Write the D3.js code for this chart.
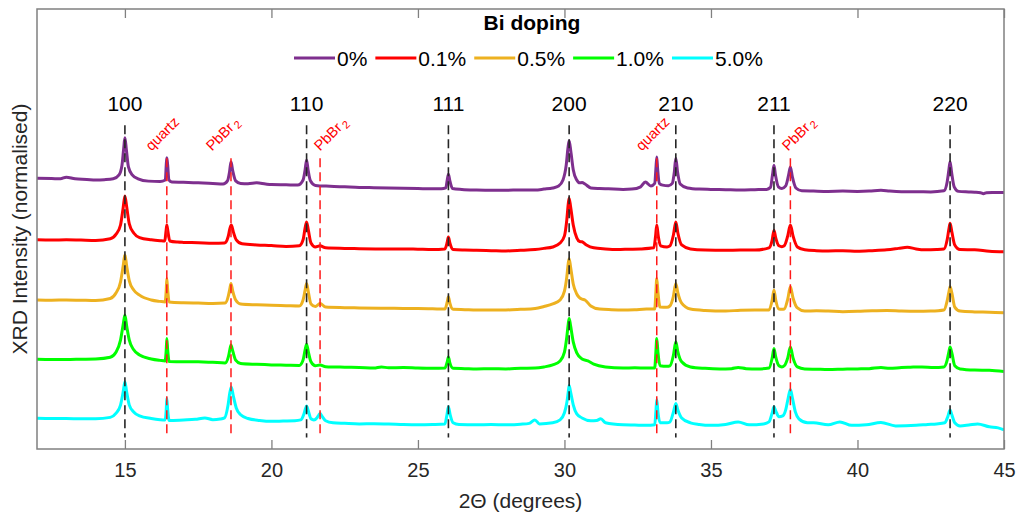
<!DOCTYPE html>
<html>
<head>
<meta charset="utf-8">
<script src="https://cdn.jsdelivr.net/npm/d3@7"></script>
<style>
  body { margin: 0; background: #fff; }
  svg text { font-family: "Liberation Sans", Arial, Helvetica, sans-serif; }
</style>
</head>
<body>
<div id="chart1"></div>
<script>
// normalised XRD intensity, [2theta, I]
var trace0 = [[12,0.29],[12.5,0.285],[12.8,0.28],[13.0,0.31],[13.3,0.28],[13.7,0.27],[14.0,0.26],[14.3,0.265],[14.6,0.28],[14.8,0.35],[14.9,0.52],[14.96,0.82],[15.0,1.0],[15.05,0.79],[15.12,0.49],[15.25,0.35],[15.45,0.28],[15.8,0.24],[16.2,0.235],[16.38,0.26],[16.41,0.52],[16.43,0.65],[16.46,0.52],[16.5,0.26],[16.6,0.225],[17.0,0.22],[17.5,0.21],[18.0,0.2],[18.35,0.19],[18.5,0.245],[18.57,0.40],[18.62,0.58],[18.68,0.42],[18.78,0.245],[18.95,0.2],[19.2,0.195],[19.5,0.21],[19.8,0.19],[20.0,0.18],[20.5,0.175],[20.9,0.17],[21.08,0.26],[21.15,0.44],[21.2,0.61],[21.25,0.44],[21.33,0.245],[21.5,0.165],[22.0,0.15],[22.5,0.14],[23,0.13],[23.5,0.125],[24,0.12],[24.5,0.115],[25,0.11],[25.5,0.105],[25.8,0.105],[25.95,0.12],[26.0,0.26],[26.04,0.36],[26.09,0.245],[26.18,0.11],[26.5,0.095],[27,0.085],[27.5,0.08],[28,0.08],[28.5,0.085],[29,0.085],[29.3,0.1],[29.6,0.12],[29.8,0.155],[29.95,0.26],[30.06,0.52],[30.12,0.82],[30.16,0.95],[30.22,0.75],[30.3,0.44],[30.42,0.26],[30.52,0.21],[30.6,0.215],[30.7,0.19],[30.9,0.12],[31.2,0.11],[31.5,0.105],[32.0,0.095],[32.3,0.1],[32.6,0.14],[32.76,0.225],[32.95,0.155],[33.08,0.2],[33.12,0.45],[33.15,0.665],[33.18,0.45],[33.24,0.2],[33.35,0.17],[33.55,0.16],[33.68,0.2],[33.75,0.40],[33.8,0.64],[33.86,0.40],[33.95,0.19],[34.2,0.12],[34.6,0.1],[35,0.095],[35.5,0.09],[36,0.085],[36.5,0.09],[36.9,0.095],[37.03,0.13],[37.1,0.35],[37.15,0.52],[37.2,0.35],[37.3,0.14],[37.42,0.11],[37.55,0.155],[37.65,0.35],[37.71,0.49],[37.78,0.31],[37.9,0.12],[38.1,0.07],[38.5,0.065],[39,0.06],[39.5,0.065],[40,0.06],[40.4,0.065],[40.8,0.08],[41.1,0.065],[41.5,0.055],[42,0.055],[42.5,0.05],[42.95,0.07],[43.06,0.225],[43.12,0.44],[43.16,0.58],[43.21,0.40],[43.3,0.14],[43.45,0.06],[43.8,0.05],[44,0.045],[44.2,0.035],[44.3,0.02],[44.4,0.035],[44.6,0.04],[45,0.04]];

var trace01 = [[12,0.25],[12.5,0.245],[13,0.25],[13.5,0.245],[14,0.24],[14.5,0.27],[14.7,0.35],[14.85,0.51],[14.94,0.81],[15.0,1.02],[15.06,0.83],[15.15,0.53],[15.3,0.37],[15.5,0.29],[15.9,0.25],[16.2,0.235],[16.36,0.23],[16.4,0.39],[16.43,0.51],[16.47,0.39],[16.53,0.23],[16.8,0.21],[17,0.205],[17.5,0.2],[18,0.19],[18.4,0.195],[18.52,0.30],[18.58,0.44],[18.63,0.51],[18.7,0.39],[18.8,0.25],[19.0,0.18],[19.5,0.16],[20,0.15],[20.5,0.135],[20.95,0.145],[21.08,0.25],[21.15,0.46],[21.2,0.565],[21.26,0.42],[21.35,0.195],[21.5,0.125],[21.66,0.145],[21.85,0.11],[22.5,0.1],[23,0.095],[24,0.09],[24.5,0.09],[25,0.085],[25.5,0.08],[25.92,0.09],[26.0,0.21],[26.04,0.30],[26.09,0.195],[26.2,0.08],[26.6,0.07],[27,0.065],[27.5,0.06],[28,0.055],[28.5,0.065],[29,0.08],[29.3,0.1],[29.6,0.125],[29.85,0.195],[30.0,0.32],[30.08,0.60],[30.13,0.88],[30.16,0.98],[30.21,0.83],[30.3,0.51],[30.42,0.285],[30.52,0.22],[30.6,0.215],[30.75,0.16],[31.0,0.11],[31.4,0.09],[31.8,0.08],[32.2,0.085],[32.6,0.09],[33.05,0.11],[33.11,0.32],[33.15,0.51],[33.2,0.32],[33.28,0.145],[33.5,0.125],[33.6,0.145],[33.72,0.34],[33.8,0.565],[33.87,0.37],[34.0,0.16],[34.3,0.09],[34.8,0.07],[35.5,0.065],[36,0.07],[36.5,0.07],[36.98,0.11],[37.09,0.25],[37.15,0.42],[37.21,0.285],[37.32,0.145],[37.42,0.13],[37.5,0.145],[37.62,0.32],[37.71,0.51],[37.8,0.32],[37.95,0.125],[38.2,0.075],[38.6,0.06],[39,0.055],[39.5,0.06],[40,0.05],[40.5,0.06],[41,0.075],[41.4,0.1],[41.7,0.12],[42,0.09],[42.3,0.075],[42.7,0.08],[42.95,0.09],[43.06,0.25],[43.12,0.44],[43.16,0.54],[43.22,0.39],[43.32,0.16],[43.5,0.08],[44,0.075],[44.5,0.05],[45,0.04]];

var trace05 = [[12,0.235],[12.5,0.23],[13,0.235],[13.5,0.23],[14,0.225],[14.5,0.26],[14.7,0.36],[14.85,0.55],[14.94,0.83],[15.0,1.03],[15.06,0.83],[15.15,0.57],[15.3,0.41],[15.5,0.32],[15.9,0.235],[16.2,0.21],[16.37,0.2],[16.41,0.41],[16.43,0.61],[16.46,0.41],[16.51,0.2],[17,0.185],[17.5,0.18],[18,0.175],[18.42,0.18],[18.53,0.305],[18.58,0.43],[18.62,0.525],[18.68,0.39],[18.78,0.235],[18.95,0.165],[19.5,0.15],[20,0.14],[20.5,0.135],[20.95,0.13],[21.08,0.235],[21.15,0.41],[21.2,0.525],[21.26,0.375],[21.35,0.165],[21.5,0.12],[21.66,0.175],[21.85,0.11],[22.5,0.1],[23,0.095],[24,0.09],[24.5,0.085],[25,0.085],[25.5,0.08],[25.92,0.075],[26.0,0.2],[26.04,0.29],[26.09,0.18],[26.2,0.07],[26.6,0.065],[27,0.06],[27.5,0.06],[28,0.06],[28.5,0.07],[29,0.085],[29.3,0.12],[29.6,0.165],[29.85,0.235],[30.0,0.39],[30.08,0.64],[30.13,0.88],[30.16,0.96],[30.21,0.81],[30.3,0.515],[30.42,0.34],[30.52,0.27],[30.6,0.25],[30.7,0.235],[30.9,0.13],[31.2,0.075],[31.6,0.065],[32,0.06],[32.4,0.065],[32.8,0.075],[33.08,0.075],[33.12,0.375],[33.15,0.61],[33.19,0.375],[33.26,0.11],[33.5,0.105],[33.6,0.13],[33.72,0.305],[33.8,0.525],[33.87,0.36],[34.0,0.18],[34.3,0.075],[34.8,0.05],[35.5,0.04],[36,0.055],[36.5,0.06],[36.98,0.06],[37.09,0.235],[37.15,0.41],[37.21,0.235],[37.32,0.075],[37.42,0.07],[37.5,0.075],[37.62,0.25],[37.71,0.465],[37.8,0.27],[37.95,0.095],[38.2,0.04],[38.6,0.045],[39,0.04],[39.5,0.03],[40,0.035],[40.5,0.045],[41,0.05],[41.5,0.04],[42,0.035],[42.5,0.04],[42.95,0.06],[43.06,0.22],[43.12,0.375],[43.16,0.465],[43.22,0.36],[43.32,0.11],[43.5,0.04],[44,0.025],[44.5,0.02],[45,0.01]];

var trace10 = [[12,0.235],[12.5,0.23],[13,0.23],[13.5,0.235],[14,0.24],[14.5,0.27],[14.7,0.36],[14.85,0.57],[14.94,0.84],[15.0,1.01],[15.06,0.82],[15.15,0.57],[15.3,0.40],[15.5,0.31],[15.9,0.24],[16.2,0.215],[16.37,0.205],[16.41,0.40],[16.43,0.6],[16.46,0.4],[16.51,0.195],[17,0.19],[17.5,0.19],[18,0.18],[18.42,0.17],[18.53,0.275],[18.58,0.40],[18.62,0.485],[18.68,0.38],[18.78,0.22],[18.95,0.16],[19.5,0.145],[20,0.135],[20.5,0.13],[20.95,0.125],[21.08,0.22],[21.15,0.40],[21.2,0.5],[21.26,0.365],[21.35,0.19],[21.5,0.12],[21.66,0.135],[21.85,0.105],[22.5,0.095],[23,0.09],[23.5,0.08],[23.75,0.1],[24,0.085],[24.5,0.09],[25,0.08],[25.5,0.075],[25.92,0.08],[26.0,0.19],[26.04,0.275],[26.09,0.17],[26.2,0.075],[26.6,0.07],[27,0.065],[27.5,0.07],[28,0.065],[28.5,0.075],[29,0.08],[29.3,0.1],[29.6,0.135],[29.85,0.205],[30.0,0.36],[30.08,0.625],[30.13,0.855],[30.16,0.95],[30.21,0.82],[30.3,0.54],[30.42,0.345],[30.6,0.24],[30.8,0.205],[31.0,0.15],[31.4,0.1],[32,0.08],[32.4,0.085],[32.8,0.08],[33.08,0.08],[33.12,0.365],[33.15,0.6],[33.19,0.365],[33.26,0.12],[33.5,0.11],[33.6,0.12],[33.72,0.31],[33.8,0.54],[33.87,0.365],[34.0,0.19],[34.3,0.1],[34.8,0.075],[35.3,0.065],[35.7,0.07],[35.93,0.09],[36.2,0.07],[36.6,0.065],[36.98,0.08],[37.09,0.26],[37.15,0.425],[37.21,0.275],[37.32,0.12],[37.42,0.1],[37.5,0.12],[37.62,0.26],[37.71,0.45],[37.8,0.26],[37.95,0.1],[38.2,0.065],[38.6,0.06],[39,0.055],[39.5,0.06],[40,0.065],[40.4,0.07],[40.8,0.09],[41.1,0.075],[41.5,0.09],[41.8,0.095],[42.2,0.1],[42.6,0.09],[42.95,0.1],[43.06,0.22],[43.12,0.365],[43.16,0.45],[43.22,0.345],[43.32,0.12],[43.5,0.065],[44,0.045],[44.5,0.04],[45,0.02]];

var trace50 = [[12,0.24],[12.5,0.235],[13,0.235],[13.5,0.23],[14,0.23],[14.5,0.255],[14.7,0.33],[14.85,0.47],[14.94,0.70],[15.0,0.88],[15.06,0.70],[15.15,0.47],[15.3,0.35],[15.5,0.28],[15.9,0.235],[16.2,0.215],[16.37,0.21],[16.41,0.385],[16.43,0.59],[16.46,0.385],[16.51,0.2],[17,0.21],[17.4,0.22],[17.73,0.245],[18.0,0.215],[18.25,0.225],[18.4,0.245],[18.52,0.47],[18.58,0.685],[18.63,0.79],[18.7,0.63],[18.8,0.42],[18.95,0.3],[19.2,0.235],[19.6,0.2],[20,0.185],[20.4,0.19],[20.8,0.195],[21.0,0.21],[21.1,0.3],[21.16,0.405],[21.2,0.455],[21.25,0.385],[21.35,0.23],[21.45,0.21],[21.55,0.245],[21.62,0.3],[21.66,0.325],[21.72,0.28],[21.85,0.195],[22.1,0.16],[22.5,0.15],[23,0.14],[23.5,0.145],[24,0.14],[24.5,0.13],[25,0.125],[25.5,0.13],[25.92,0.14],[25.99,0.3],[26.04,0.44],[26.1,0.3],[26.2,0.16],[26.4,0.13],[27,0.125],[27.5,0.13],[28,0.125],[28.5,0.135],[28.8,0.15],[28.99,0.21],[29.15,0.14],[29.6,0.16],[29.85,0.21],[30.0,0.335],[30.08,0.51],[30.13,0.70],[30.16,0.815],[30.21,0.70],[30.3,0.475],[30.42,0.315],[30.6,0.245],[30.9,0.195],[31.1,0.2],[31.24,0.23],[31.4,0.16],[32,0.125],[32.4,0.12],[32.8,0.115],[33.08,0.125],[33.12,0.35],[33.15,0.57],[33.19,0.35],[33.26,0.16],[33.5,0.16],[33.6,0.175],[33.72,0.35],[33.8,0.5],[33.87,0.385],[34.0,0.245],[34.3,0.16],[34.6,0.13],[35,0.115],[35.5,0.13],[35.93,0.175],[36.3,0.125],[36.8,0.14],[36.98,0.175],[37.09,0.335],[37.15,0.44],[37.21,0.37],[37.32,0.265],[37.45,0.28],[37.55,0.385],[37.63,0.58],[37.71,0.745],[37.78,0.595],[37.88,0.35],[38.0,0.23],[38.3,0.16],[38.5,0.16],[39,0.125],[39.4,0.175],[39.8,0.115],[40.3,0.125],[40.8,0.165],[41.3,0.105],[42,0.115],[42.4,0.13],[42.7,0.14],[42.98,0.16],[43.08,0.265],[43.16,0.385],[43.22,0.3],[43.32,0.16],[43.5,0.105],[43.8,0.12],[44.1,0.14],[44.5,0.09],[44.8,0.07],[45,0.035]];

var dopingLabels = ["0%", "0.1%", "0.5%", "1.0%", "5.0%"];
var traceOffsets = [4.16, 3.12, 2.08, 1.04, 0];
var traceColors = ["#7E2F8E", "#FF0000", "#EDB120", "#00FF00", "#00FFFF"];

// perovskite reflections
var hklPos = [15.0, 21.2, 26.04, 30.16, 33.8, 37.15, 43.16];
var hklLabels = ["100", "110", "111", "200", "210", "211", "220"];

// impurity reflections
var impPos = [16.43, 18.62, 21.66, 33.15, 37.71];
var impNames = ["quartz", "PbBr", "PbBr", "quartz", "PbBr"];
var impSub = ["", "2", "2", "", "2"];
var impLabelX = [15.91, 17.97, 21.66, 32.64, 37.63];

var xTicks = [15, 20, 25, 30, 35, 40, 45];

var traces = [trace0, trace01, trace05, trace10, trace50];

function drawChart() {
  var w = 1018, h = 512;
  var mLeft = 37, mRight = 1004, mTop = 9, mBottom = 449;

  var xScale = d3.scaleLinear().domain([12, 45]).range([mLeft, mRight]);
  var yScale = d3.scaleLinear().domain([-0.3, 7.42]).range([mBottom, mTop]);

  var svg = d3.select("#chart1").append("svg")
      .attr("width", w)
      .attr("height", h);

  svg.append("defs").append("clipPath").attr("id", "clip")
    .append("rect")
      .attr("x", mLeft).attr("y", mTop)
      .attr("width", mRight - mLeft).attr("height", mBottom - mTop);

  var line = d3.line()
      .x(function(d) { return xScale(d[0]); })
      .y(function(d) { return yScale(d[1]); })
      .curve(d3.curveMonotoneX);

  var plot = svg.append("g").attr("clip-path", "url(#clip)");

  traces.forEach(function(tr, i) {
    plot.append("path")
      .datum(tr.map(function(p) { return [p[0], p[1] + traceOffsets[i]]; }))
      .attr("fill", "none")
      .attr("stroke", traceColors[i])
      .attr("stroke-width", 3)
      .attr("stroke-linejoin", "round")
      .attr("d", line);
  });

  // dashed reference lines
  plot.selectAll(".hkl")
    .data(hklPos)
    .enter().append("line")
      .attr("x1", function(d) { return xScale(d); })
      .attr("x2", function(d) { return xScale(d); })
      .attr("y1", yScale(5.38))
      .attr("y2", yScale(-0.1))
      .attr("stroke", "#262626")
      .attr("stroke-width", 1.6)
      .attr("stroke-dasharray", "9,5");

  plot.selectAll(".imp")
    .data(impPos)
    .enter().append("line")
      .attr("x1", function(d) { return xScale(d); })
      .attr("x2", function(d) { return xScale(d); })
      .attr("y1", yScale(4.8))
      .attr("y2", yScale(-0.03))
      .attr("stroke", "#ff1a1a")
      .attr("stroke-width", 1.5)
      .attr("stroke-dasharray", "9,5");

  // axes box
  var xAxisB = d3.axisBottom(xScale).tickValues(xTicks).tickSizeInner(-9).tickSizeOuter(0).tickPadding(14);
  var xAxisT = d3.axisTop(xScale).tickValues(xTicks).tickSizeInner(-9).tickSizeOuter(0).tickFormat("");

  var gB = svg.append("g").attr("transform", "translate(0," + mBottom + ")").call(xAxisB);
  var gT = svg.append("g").attr("transform", "translate(0," + mTop + ")").call(xAxisT);
  [gB, gT].forEach(function(g) {
    g.select(".domain").remove();
    g.selectAll("line").attr("stroke", "#808080").attr("stroke-width", 1.3);
  });
  gB.selectAll("text")
      .attr("fill", "#262626")
      .style("font-size", "20px");

  svg.append("rect")
      .attr("x", mLeft).attr("y", mTop)
      .attr("width", mRight - mLeft).attr("height", mBottom - mTop)
      .attr("fill", "none")
      .attr("stroke", "#808080")
      .attr("stroke-width", 1.5);

  // hkl labels
  svg.selectAll(".hklLab")
    .data(hklLabels)
    .enter().append("text")
      .attr("x", function(d, i) { return xScale(hklPos[i]); })
      .attr("y", yScale(5.63))
      .attr("text-anchor", "middle")
      .attr("fill", "#000")
      .style("font-size", "21px")
      .text(function(d) { return d; });

  // impurity labels, rotated
  impNames.forEach(function(name, i) {
    var tx = xScale(impLabelX[i]), ty = yScale(4.92);
    var t = svg.append("text")
        .attr("x", tx).attr("y", ty)
        .attr("transform", "rotate(-45," + tx + "," + ty + ")")
        .attr("fill", "#ff0000")
        .style("font-size", "14.5px")
        .text(name);
    if (impSub[i]) {
      t.append("tspan")
        .attr("dx", 2).attr("dy", 3)
        .style("font-size", "11px")
        .text(impSub[i]);
    }
  });

  // axis labels
  svg.append("text")
      .attr("x", (mLeft + mRight) / 2)
      .attr("y", 508)
      .attr("text-anchor", "middle")
      .attr("fill", "#262626")
      .style("font-size", "21px")
      .text("2\u0398 (degrees)");

  svg.append("text")
      .attr("transform", "translate(27," + ((mTop + mBottom) / 2) + ") rotate(-90)")
      .attr("text-anchor", "middle")
      .attr("fill", "#262626")
      .style("font-size", "21px")
      .text("XRD Intensity (normalised)");

  // legend
  var legend = svg.append("g");
  legend.append("text")
      .attr("x", 532).attr("y", 30)
      .attr("text-anchor", "middle")
      .attr("fill", "#000")
      .style("font-size", "21px")
      .style("font-weight", "bold")
      .text("Bi doping");

  var lx = 294;
  dopingLabels.forEach(function(lab, i) {
    legend.append("line")
      .attr("x1", lx).attr("x2", lx + 41)
      .attr("y1", 58).attr("y2", 58)
      .attr("stroke", traceColors[i])
      .attr("stroke-width", 3);
    var t = legend.append("text")
      .attr("x", lx + 43).attr("y", 66)
      .attr("fill", "#000")
      .style("font-size", "21px")
      .text(lab);
    lx = lx + 43 + t.node().getComputedTextLength() + 8;
  });
}

drawChart();
</script>
</body>
</html>
